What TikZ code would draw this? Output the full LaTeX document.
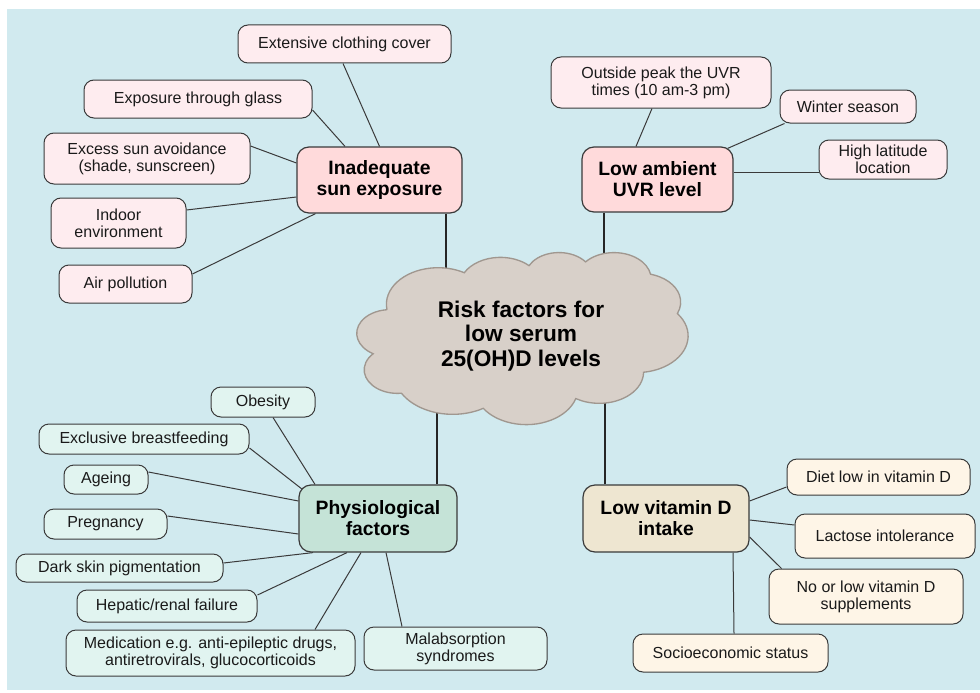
\documentclass[tikz,border=0pt]{standalone}
\usepackage{fontspec}
\setmainfont{Liberation Sans}
\pgfdeclarelayer{bg}
\pgfsetlayers{bg,main}
\definecolor{bgblue}{HTML}{D1EAEF}
\definecolor{pinkleaf}{HTML}{FEECEF}
\definecolor{pinkmain}{HTML}{FFDADB}
\definecolor{greenleaf}{HTML}{E1F4F0}
\definecolor{greenmain}{HTML}{C5E3D7}
\definecolor{beigeleaf}{HTML}{FEF5E7}
\definecolor{beigemain}{HTML}{EEE6D1}
\definecolor{cloudfill}{HTML}{D8D0C9}
\definecolor{cloudline}{HTML}{A0978F}
\definecolor{boxline}{HTML}{3A3A3A}
\definecolor{txt}{HTML}{1A1A1A}
% cloud geometry (DrawingML-style cloud, 4320 units scaled to W x H px)
\def\cloudW{331}
\def\cloudH{172}
\newcommand\cloudarcdef[5]{% name, wR, hR, stAng, swAng (degrees)
  \pgfmathsetmacro\tmpS{atan2(#2*sin(#4),#3*cos(#4))}%
  \pgfmathsetmacro\tmpE{atan2(#2*sin(#4+#5),#3*cos(#4+#5))}%
  \pgfmathsetmacro\tmpD{\tmpE-\tmpS}%
  \pgfmathsetmacro\tmpD{ifthenelse(#5>0,ifthenelse(\tmpD<0,\tmpD+360,\tmpD),ifthenelse(\tmpD>0,\tmpD-360,\tmpD))}%
  \pgfmathsetmacro\tmpS{-\tmpS}%
  \pgfmathsetmacro\tmpD{-\tmpD}%
  \pgfmathsetmacro\tmpX{#2/4320*\cloudW*0.75}%
  \pgfmathsetmacro\tmpY{#3/4320*\cloudH*0.75}%
  \expandafter\let\csname cS#1\endcsname\tmpS
  \expandafter\let\csname cD#1\endcsname\tmpD
  \expandafter\let\csname cX#1\endcsname\tmpX
  \expandafter\let\csname cY#1\endcsname\tmpY
}
\newcommand\carc[1]{arc[start angle=\csname cS#1\endcsname, delta angle=\csname cD#1\endcsname,
  x radius=\csname cX#1\endcsname pt, y radius=\csname cY#1\endcsname pt]}
\tikzset{
  sz/.style 2 args={minimum width=#1*0.75pt, minimum height=#2*0.75pt},
  leaf/.style={draw=boxline, line width=0.75pt, rounded corners=7.5pt, inner sep=0pt,
    align=center, text=txt, font=\fontsize{12}{12.8}\selectfont},
  mainbox/.style={leaf, line width=0.9pt, rounded corners=9pt, text=black,
    font=\bfseries\fontsize{14.5}{15.8}\selectfont},
  conn/.style={draw=boxline, line width=0.75pt},
  trunk/.style={draw=black!85, line width=1.1pt},
  cloudstyle/.style={fill=cloudfill, draw=cloudline, line width=1pt}
}
\begin{document}
\begin{tikzpicture}[x=0.75pt,y=-0.75pt]
\cloudarcdef{a}{675.3}{919.0}{-190.487483}{123.780533}
\cloudarcdef{b}{533.3}{726.7}{-144.102383}{89.945233}
\cloudarcdef{c}{436.5}{594.5}{-145.807917}{99.723017}
\cloudarcdef{d}{485.7}{659.5}{-130.986067}{117.241733}
\cloudarcdef{e}{533.3}{727.3}{-78.708883}{109.026917}
\cloudarcdef{f}{677.5}{922.0}{-46.267250}{130.269}
\cloudarcdef{g}{578.5}{786.7}{0.625017}{114.033333}
\cloudarcdef{h}{675.2}{921.5}{22.451600}{115.172550}
\cloudarcdef{i}{772.0}{1054.3}{66.242633}{75.711017}
\cloudarcdef{j}{436.0}{591.8}{-274.942083}{146.735567}
\cloudarcdef{k}{434.5}{594.5}{-246.8285}{152.518850}
\useasboundingbox (0,0) rectangle (980,692);

% main category boxes
\node[mainbox, fill=pinkmain, sz={165}{66}] (inad) at (379.5,180) {Inadequate\\sun exposure};
\node[mainbox, fill=pinkmain, sz={151}{65}] (low) at (657.5,179.5) {Low ambient\\UVR level};
\node[mainbox, fill=greenmain, sz={158}{67}] (phys) at (378,518.5) {Physiological\\factors};
\node[mainbox, fill=beigemain, sz={166}{67}] (vit) at (666,518.5) {Low vitamin D\\intake};

% cloud
\path[cloudstyle] ({357+390/4320*\cloudW},{252+1437/4320*\cloudH})
  \carc{a} \carc{b} \carc{c} \carc{d} \carc{e} \carc{f}
  \carc{g} \carc{h} \carc{i} \carc{j} \carc{k} -- cycle;
\node[align=center, text=black, inner sep=0pt,
      font=\bfseries\fontsize{17}{18.3}\selectfont] (risk) at (521,336)
      {Risk factors for\\low serum\\25(OH)D levels};

% inadequate sun exposure leaves
\node[leaf, fill=pinkleaf, sz={213}{38}] (ext) at (344.5,44) {Extensive clothing cover};
\node[leaf, fill=pinkleaf, sz={228}{38}] (glass) at (198,99) {Exposure through glass};
\node[leaf, fill=pinkleaf, sz={206}{51}] (excess) at (147,158.5) {Excess sun avoidance\\(shade, sunscreen)};
\node[leaf, fill=pinkleaf, sz={135}{50}] (indoor) at (118.5,223) {Indoor\\environment};
\node[leaf, fill=pinkleaf, sz={133}{38}] (air) at (125.5,284) {Air pollution};

% low ambient UVR leaves
\node[leaf, fill=pinkleaf, sz={220}{51}] (outside) at (661,82.5) {Outside peak the UVR\\times (10 am-3 pm)};
\node[leaf, fill=pinkleaf, sz={136}{33}] (winter) at (848,106.5) {Winter season};
\node[leaf, fill=pinkleaf, sz={128}{39}] (high) at (883,159.5) {High latitude\\location};

% physiological leaves
\node[leaf, fill=greenleaf, sz={104}{30}] (obes) at (263,402) {Obesity};
\node[leaf, fill=greenleaf, sz={210}{30}] (breast) at (144,439) {Exclusive breastfeeding};
\node[leaf, fill=greenleaf, sz={84}{29}] (age) at (106,479.5) {Ageing};
\node[leaf, fill=greenleaf, sz={123}{30}] (preg) at (105.5,524) {Pregnancy};
\node[leaf, fill=greenleaf, sz={207}{28}] (dark) at (119.5,568) {Dark skin pigmentation};
\node[leaf, fill=greenleaf, sz={180}{32}] (hep) at (167,606) {Hepatic/renal failure};
\node[leaf, fill=greenleaf, sz={289}{46}] (med) at (210.5,653) {Medication e.g. anti-epileptic drugs,\\antiretrovirals, glucocorticoids};
\node[leaf, fill=greenleaf, sz={183}{43}] (mal) at (455.5,648.5) {Malabsorption\\syndromes};

% low vitamin D intake leaves
\node[leaf, fill=beigeleaf, sz={183}{36}] (diet) at (878.5,477) {Diet low in vitamin D};
\node[leaf, fill=beigeleaf, sz={180}{44}] (lact) at (885,536) {Lactose intolerance};
\node[leaf, fill=beigeleaf, sz={194}{55}] (nolow) at (866,596.5) {No or low vitamin D\\supplements};
\node[leaf, fill=beigeleaf, sz={195}{38}] (socio) at (730.5,653) {Socioeconomic status};

\begin{pgfonlayer}{bg}
  \fill[white] (0,0) rectangle (980,692);
  \fill[bgblue] (7,9) rectangle (980,690);
  % trunks to the cloud
  \draw[trunk] ([shift={(66.5,0)}]inad.south) -- ([shift={(66.5,0)}]inad.south |- risk.center);
  \draw[trunk] ([shift={(-53.5,0)}]low.south) -- ([shift={(-53.5,0)}]low.south |- risk.center);
  \draw[trunk] ([shift={(59,0)}]phys.north) -- ([shift={(59,0)}]phys.north |- risk.center);
  \draw[trunk] ([shift={(-61,0)}]vit.north) -- ([shift={(-61,0)}]vit.north |- risk.center);
  % inadequate sun exposure
  \draw[conn] ([shift={(-1.5,0)}]ext.south) -- (inad.north);
  \draw[conn] ([shift={(0,11)}]glass.east) -- ([shift={(-34.5,0)}]inad.north);
  \draw[conn] ([shift={(0,-12.5)}]excess.east) -- ([shift={(0,-17)}]inad.west);
  \draw[conn] ([shift={(0,-13)}]indoor.east) -- ([shift={(0,17)}]inad.west);
  \draw[conn] ([shift={(0,-10)}]air.east) -- ([shift={(-64,0)}]inad.south);
  % low ambient UVR
  \draw[conn] ([shift={(-9,0)}]outside.south) -- ([shift={(-21.5,0)}]low.north);
  \draw[conn] ([shift={(5,0)}]winter.south west) -- ([shift={(-6,2)}]low.north east);
  \draw[conn] ([shift={(0,13)}]high.west) -- ([shift={(0,-7)}]low.east);
  % physiological
  \draw[conn] ([shift={(10,0)}]obes.south) -- ([shift={(-63,0)}]phys.north);
  \draw[conn] ([shift={(0,9)}]breast.east) -- ([shift={(4,5)}]phys.north west);
  \draw[conn] ([shift={(0,-7.5)}]age.east) -- ([shift={(0,-17.5)}]phys.west);
  \draw[conn] ([shift={(0,-8)}]preg.east) -- ([shift={(0,15.5)}]phys.west);
  \draw[conn] ([shift={(0,-5)}]dark.east) -- ([shift={(-65,0)}]phys.south);
  \draw[conn] ([shift={(0,-11)}]hep.east) -- ([shift={(-31,0)}]phys.south);
  \draw[conn] ([shift={(104.5,0)}]med.north) -- ([shift={(-17,0)}]phys.south);
  \draw[conn] ([shift={(-53.5,0)}]mal.north) -- ([shift={(8,0)}]phys.south);
  % low vitamin D intake
  \draw[conn] ([shift={(0,10)}]diet.west) -- ([shift={(0,-17.5)}]vit.east);
  \draw[conn] ([shift={(0,-11)}]lact.west) -- ([shift={(0,1.5)}]vit.east);
  \draw[conn] ([shift={(13,0)}]nolow.north west) -- ([shift={(0,18.5)}]vit.east);
  \draw[conn] ([shift={(3.5,0)}]socio.north) -- ([shift={(67,0)}]vit.south);
\end{pgfonlayer}
\end{tikzpicture}
\end{document}
